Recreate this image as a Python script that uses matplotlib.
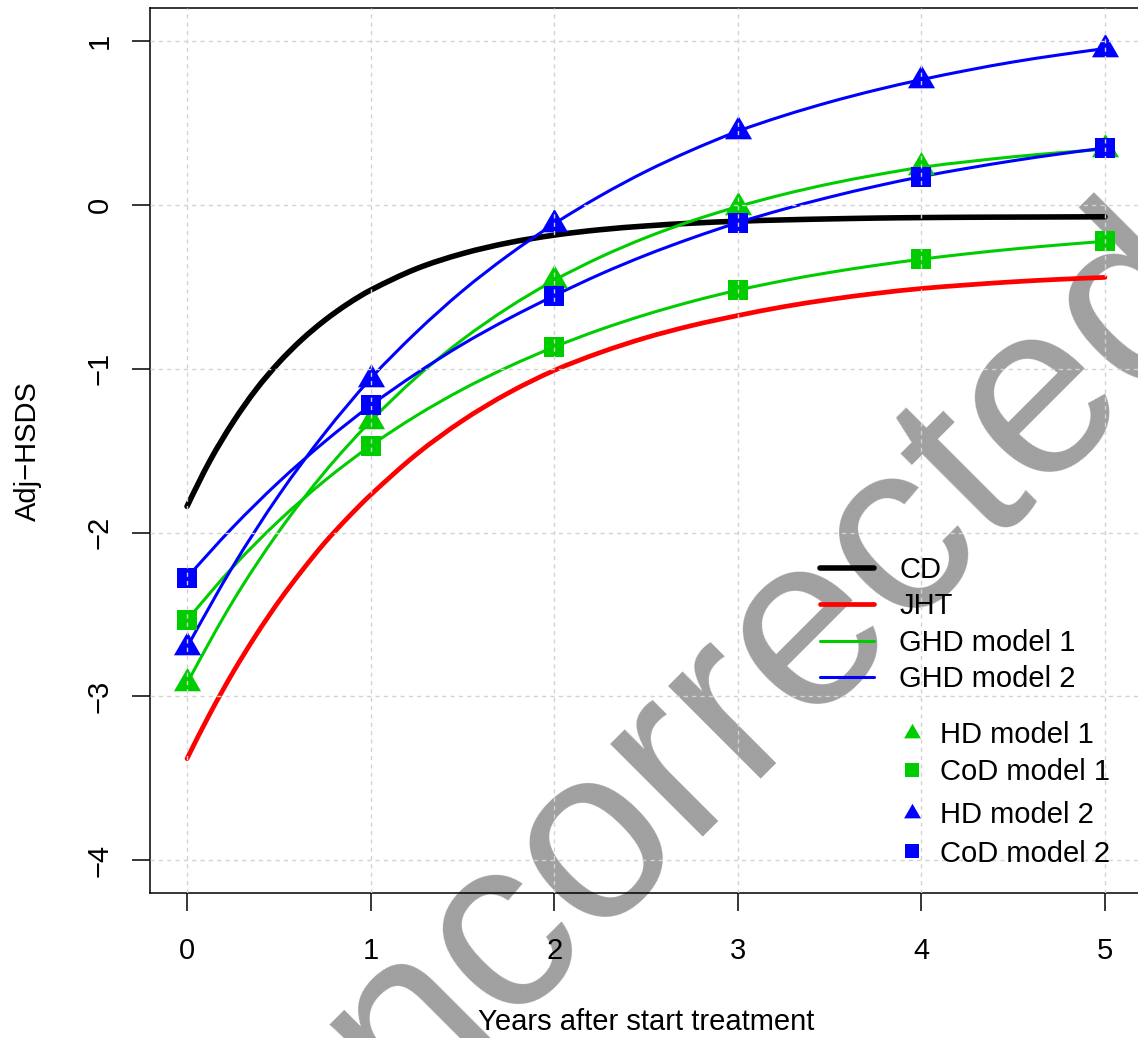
import matplotlib
matplotlib.use("Agg")
import matplotlib.pyplot as plt
from matplotlib.lines import Line2D
from matplotlib.path import Path
from matplotlib.patches import PathPatch

plt.rcParams['font.family'] = ['Liberation Sans', 'DejaVu Sans']

# ---- data ----
years = [0, 1, 2, 3, 4, 5]
hd_model1 = [-2.92, -1.32, -0.46, -0.01, 0.23, 0.34]
cod_model1 = [-2.535, -1.47, -0.867, -0.52, -0.331, -0.222]
hd_model2 = [-2.70, -1.06, -0.115, 0.45, 0.765, 0.955]
cod_model2 = [-2.275, -1.224, -0.554, -0.108, 0.173, 0.348]

model_t = [0, 0.25, 0.5, 0.75, 1, 1.25, 1.5, 1.75, 2, 2.25, 2.5, 2.75,
           3, 3.25, 3.5, 3.75, 4, 4.25, 4.5, 4.75, 5]
ghd1_hd_curve = [-2.92, -2.419, -1.994, -1.630, -1.32, -1.051, -0.822, -0.627,
                 -0.46, -0.319, -0.199, -0.097, -0.01, 0.065, 0.129, 0.183,
                 0.23, 0.264, 0.294, 0.319, 0.34]
ghd1_cod_curve = [-2.535, -2.210, -1.928, -1.683, -1.47, -1.286, -1.126, -0.988,
                  -0.867, -0.761, -0.669, -0.589, -0.52, -0.462, -0.412, -0.369,
                  -0.331, -0.298, -0.269, -0.244, -0.222]
ghd2_hd_curve = [-2.70, -2.206, -1.772, -1.393, -1.06, -0.776, -0.525, -0.307,
                 -0.115, 0.055, 0.205, 0.335, 0.45, 0.545, 0.628, 0.701,
                 0.765, 0.822, 0.873, 0.916, 0.955]
ghd2_cod_curve = [-2.275, -1.967, -1.691, -1.445, -1.224, -1.028, -0.851, -0.695,
                  -0.554, -0.423, -0.306, -0.202, -0.108, -0.026, 0.048, 0.114,
                  0.173, 0.224, 0.270, 0.311, 0.348]

ref_t = [0, 0.125, 0.25, 0.375, 0.5, 0.625, 0.75, 0.875, 1, 1.25, 1.5, 1.75,
         2, 2.25, 2.5, 2.75, 3, 3.25, 3.5, 3.75, 4, 4.25, 4.5, 4.75, 5]
cd_curve = [-1.84, -1.561, -1.327, -1.128, -0.962, -0.822, -0.704, -0.604,
            -0.520, -0.389, -0.297, -0.231, -0.184, -0.151, -0.128, -0.111,
            -0.099, -0.091, -0.085, -0.080, -0.077, -0.075, -0.074, -0.073, -0.072]
jht_curve = [-3.38, -3.105, -2.854, -2.627, -2.420, -2.234, -2.062, -1.910,
             -1.77, -1.522, -1.317, -1.148, -1.01, -0.901, -0.810, -0.736,
             -0.675, -0.621, -0.577, -0.540, -0.51, -0.488, -0.469, -0.454, -0.442]

x_ticks = [0, 1, 2, 3, 4, 5]
y_ticks = [-4, -3, -2, -1, 0, 1]
line_labels = ["CD", "JHT", "GHD model 1", "GHD model 2"]
point_labels1 = ["HD model 1", "CoD model 1"]
point_labels2 = ["HD model 2", "CoD model 2"]

# ---- style ----
GREEN = '#00CD00'
BLUE = '#0000FF'
RED = '#FF0000'
BLACK = '#000000'
TRI = [(0, 1), (-0.866, -0.5), (0.866, -0.5)]
FS = 21


def smooth_path(t, y):
    """Cubic Hermite (Bezier) path passing through the given points."""
    n = len(t)
    d = [(y[i + 1] - y[i]) / (t[i + 1] - t[i]) for i in range(n - 1)]
    m = [0.0] * n
    for i in range(1, n - 1):
        m[i] = (y[i + 1] - y[i - 1]) / (t[i + 1] - t[i - 1])
    m[0] = 1.5 * d[0] - 0.5 * m[1]
    m[-1] = 1.5 * d[-1] - 0.5 * m[-2]
    verts = [(t[0], y[0])]
    codes = [Path.MOVETO]
    for i in range(n - 1):
        h = t[i + 1] - t[i]
        verts += [(t[i] + h / 3, y[i] + m[i] * h / 3),
                  (t[i + 1] - h / 3, y[i + 1] - m[i + 1] * h / 3),
                  (t[i + 1], y[i + 1])]
        codes += [Path.CURVE4] * 3
    return Path(verts, codes)


fig = plt.figure(figsize=(11.38, 10.38), dpi=100)
W, H = 1138.0, 1038.0

# watermark (behind everything)
fig.text(769 / W, 1 - 755 / H, "uncorrected", fontsize=177, color='#A0A0A0',
         rotation=45, rotation_mode='anchor', ha='center', va='baseline',
         zorder=-1, family=['Liberation Sans', 'DejaVu Sans'])

ax = fig.add_axes([150.3 / W, 145 / H, (1141.7 - 150.3) / W, 884.6 / H])
ax.patch.set_facecolor('none')
ax.set_xlim(-0.2, 5.2)
ax.set_ylim(-4.2, 1.2)

lw_thick = 4.0
lw_red = 3.4
lw_thin = 2.2

curves = [(ref_t, cd_curve, BLACK, lw_thick),
          (ref_t, jht_curve, RED, lw_red),
          (model_t, ghd1_hd_curve, GREEN, lw_thin),
          (model_t, ghd1_cod_curve, GREEN, lw_thin),
          (model_t, ghd2_hd_curve, BLUE, lw_thin),
          (model_t, ghd2_cod_curve, BLUE, lw_thin)]
for tt, yy, col, lw in curves:
    ax.add_patch(PathPatch(smooth_path(tt, yy), facecolor='none', edgecolor=col,
                           lw=lw, capstyle='round', joinstyle='round', zorder=2))

ms_tri = 22.5
ms_sq = 14.4
ax.plot(years, hd_model1, ls='none', marker=TRI, ms=ms_tri, color=GREEN, mew=0, zorder=2.1)
ax.plot(years, cod_model1, ls='none', marker='s', ms=ms_sq, color=GREEN, mew=0, zorder=2.1)
ax.plot(years, hd_model2, ls='none', marker=TRI, ms=ms_tri, color=BLUE, mew=0, zorder=2.1)
ax.plot(years, cod_model2, ls='none', marker='s', ms=ms_sq, color=BLUE, mew=0, zorder=2.1)

# grid drawn on top like R's grid()
ax.set_axisbelow(False)
ax.grid(True, color='#D3D3D3', lw=1.0, linestyle=(0, (3, 3)))

ax.set_xticks(x_ticks)
ax.set_yticks(y_ticks)
ax.set_xticklabels([str(v) for v in x_ticks])
ax.set_yticklabels([str(v).replace('-', '\u2212') for v in y_ticks])
ax.tick_params(axis='both', direction='out', length=13, width=1.1, labelsize=FS)
ax.tick_params(axis='x', pad=18.5)
ax.tick_params(axis='y', pad=13.5)
for lab in ax.get_yticklabels():
    lab.set_rotation(90)
    lab.set_va('center')
for sp in ax.spines.values():
    sp.set_linewidth(1.1)

ax.set_xlabel("Years after start treatment", fontsize=FS)
ax.xaxis.set_label_coords(0.5, (893 - 1030) / 884.6)
ax.xaxis.label.set_va('baseline')
ax.set_ylabel("Adj\u2212HSDS", fontsize=FS)
ax.yaxis.set_label_coords((28 - 150.3) / 991.4, 0.5)
ax.yaxis.label.set_va('center')

# legends
h_lines = [Line2D([], [], color=BLACK, lw=lw_thick, solid_capstyle='round'),
           Line2D([], [], color=RED, lw=lw_red, solid_capstyle='round'),
           Line2D([], [], color=GREEN, lw=lw_thin, solid_capstyle='round'),
           Line2D([], [], color=BLUE, lw=lw_thin, solid_capstyle='round')]
leg1 = ax.legend(h_lines, line_labels, loc='center left',
                 bbox_to_anchor=(820 / W, 1 - 624.5 / H), bbox_transform=fig.transFigure,
                 frameon=False, borderpad=0, borderaxespad=0, handlelength=1.85,
                 handletextpad=0.86, labelspacing=0.29, fontsize=FS)
ax.add_artist(leg1)

ms_leg_tri = 14
ms_leg_sq = 10
h_pts1 = [Line2D([], [], ls='none', marker=TRI, ms=ms_leg_tri, color=GREEN, mew=0),
          Line2D([], [], ls='none', marker='s', ms=ms_leg_sq, color=GREEN, mew=0)]
h_pts2 = [Line2D([], [], ls='none', marker=TRI, ms=ms_leg_tri, color=BLUE, mew=0),
          Line2D([], [], ls='none', marker='s', ms=ms_leg_sq, color=BLUE, mew=0)]
leg2 = ax.legend(h_pts1, point_labels1, loc='center left',
                 bbox_to_anchor=(898.6 / W, 1 - 753.5 / H), bbox_transform=fig.transFigure,
                 frameon=False, borderpad=0, borderaxespad=0, handlelength=0.95,
                 handletextpad=0.47, labelspacing=0.32, fontsize=FS, numpoints=1)
ax.add_artist(leg2)
leg3 = ax.legend(h_pts2, point_labels2, loc='center left',
                 bbox_to_anchor=(898.6 / W, 1 - 834.5 / H), bbox_transform=fig.transFigure,
                 frameon=False, borderpad=0, borderaxespad=0, handlelength=0.95,
                 handletextpad=0.47, labelspacing=0.35, fontsize=FS, numpoints=1)

fig.savefig("out.png", dpi=100)
